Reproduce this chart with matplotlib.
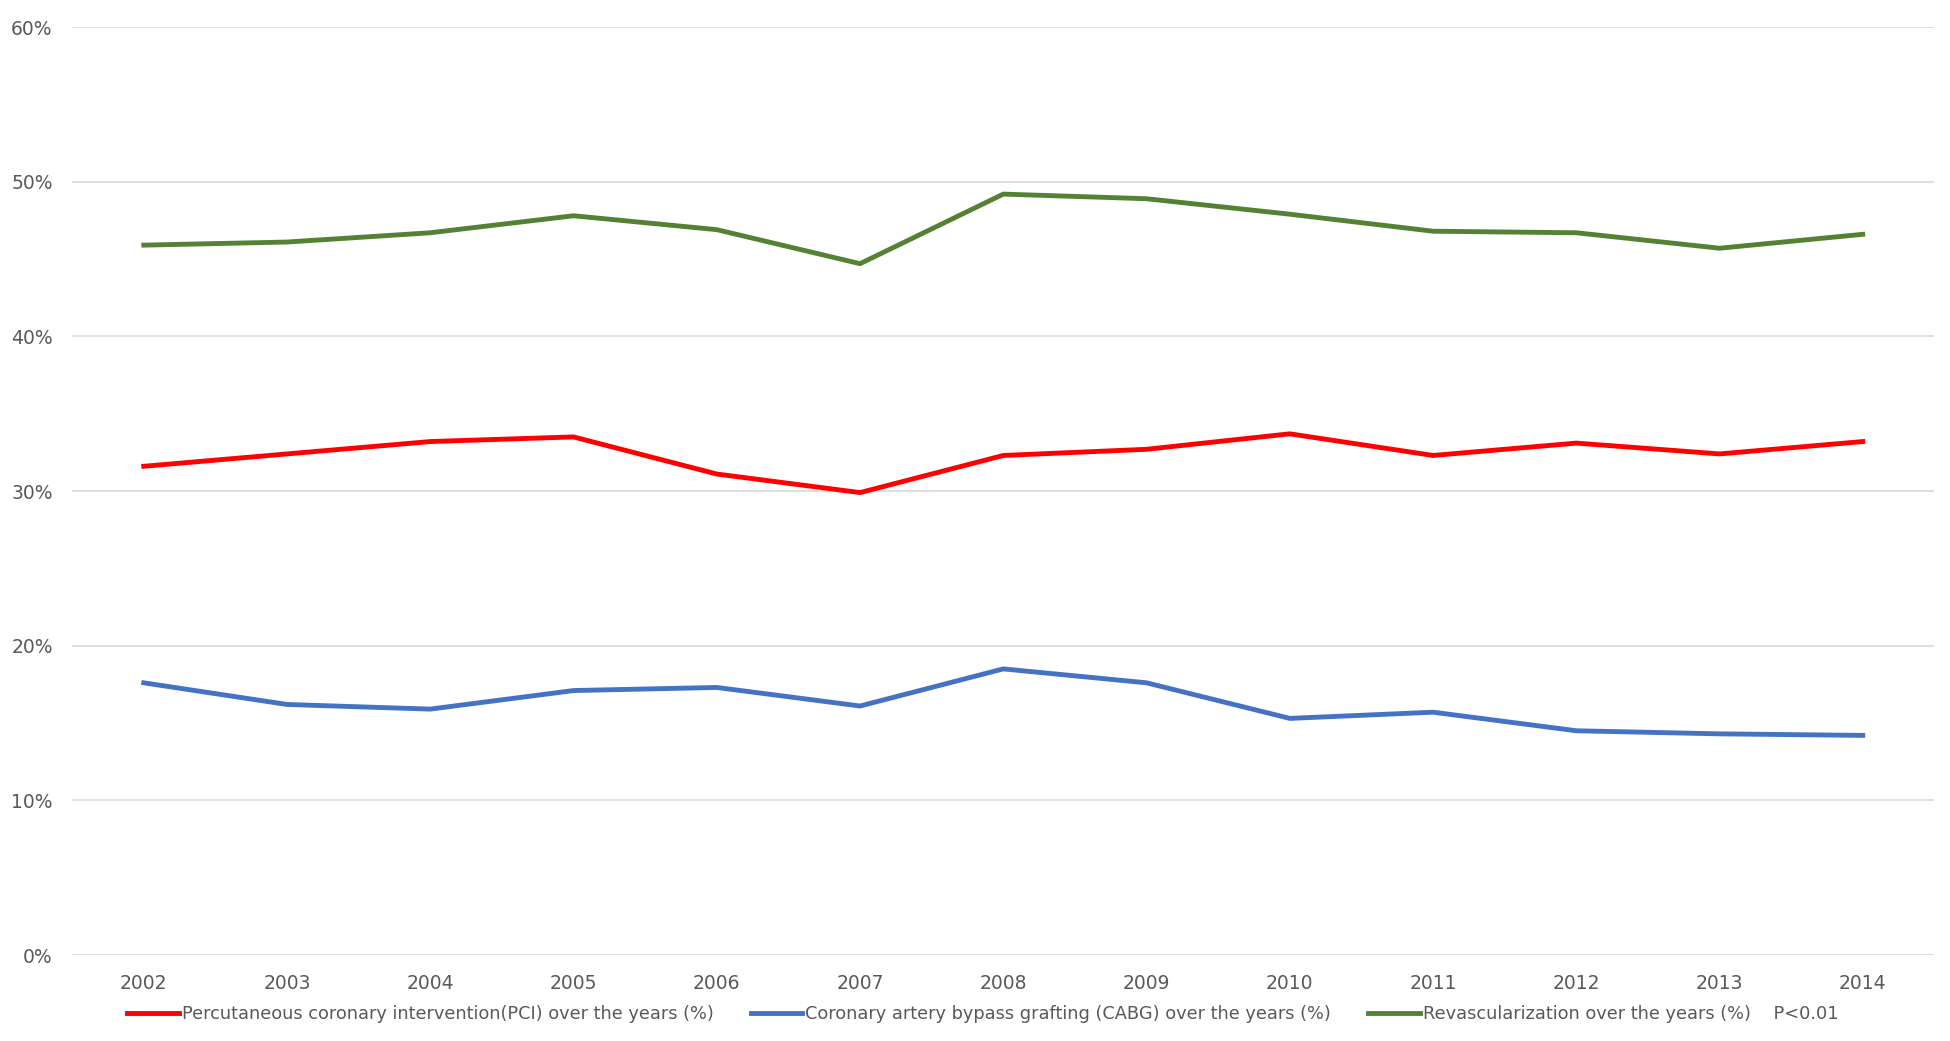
import matplotlib
matplotlib.use("Agg")
import matplotlib.pyplot as plt
from matplotlib.ticker import PercentFormatter

years = ["2002", "2003", "2004", "2005", "2006", "2007", "2008",
         "2009", "2010", "2011", "2012", "2013", "2014"]

pci = [31.6, 32.4, 33.2, 33.5, 31.1, 29.9, 32.3, 32.7, 33.7, 32.3, 33.1, 32.4, 33.2]
cabg = [17.6, 16.2, 15.9, 17.1, 17.3, 16.1, 18.5, 17.6, 15.3, 15.7, 14.5, 14.3, 14.2]
revasc = [45.9, 46.1, 46.7, 47.8, 46.9, 44.7, 49.2, 48.9, 47.9, 46.8, 46.7, 45.7, 46.6]

labels = ["Percutaneous coronary intervention(PCI) over the years (%)",
          "Coronary artery bypass grafting (CABG) over the years (%)",
          "Revascularization over the years (%)    P<0.01"]
colors = ["#ff0000", "#4472c4", "#548235"]

plt.rcParams['font.family'] = ['DejaVu Sans']

fig = plt.figure(figsize=(19.5, 10.41), dpi=100)
ax = fig.add_axes([0.037, 0.0826, 0.955, 0.8914])

x = range(len(years))
for vals, lab, c in zip([pci, cabg, revasc], labels, colors):
    ax.plot(x, vals, color=c, lw=3.5, label=lab, solid_joinstyle='round')

ax.set_xlim(-0.5, len(years) - 0.5)
ax.set_ylim(0, 60)
ax.set_yticks(range(0, 61, 10))
ax.yaxis.set_major_formatter(PercentFormatter(decimals=0))
ax.set_xticks(list(x))
ax.set_xticklabels(years)
ax.grid(axis='y', color='#d9d9d9', lw=1.2)
ax.set_axisbelow(True)
for s in ax.spines.values():
    s.set_visible(False)
ax.tick_params(length=0, labelsize=13.5, colors='#595959', pad=14)
ax.tick_params(axis='y', pad=14)

leg = ax.legend(loc='upper center', bbox_to_anchor=(0.489, -0.037), ncol=3,
                frameon=False, fontsize=12.8, handlelength=2.9,
                columnspacing=2.1, handletextpad=0.15)
for t in leg.get_texts():
    t.set_color('#595959')

fig.savefig("out.png", dpi=100)
